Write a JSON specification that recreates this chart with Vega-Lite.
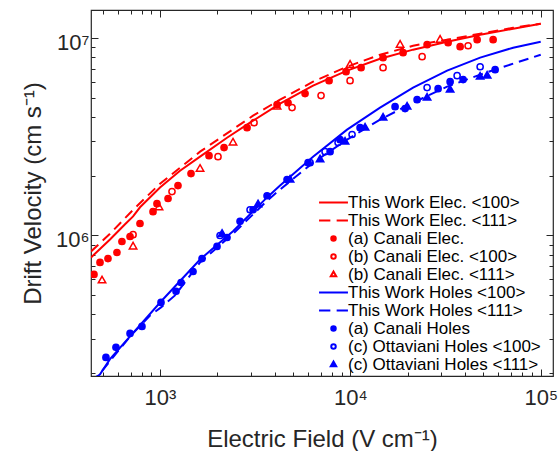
{
  "$schema": "https://vega.github.io/schema/vega-lite/v6.json",
  "width": 462,
  "height": 366,
  "autosize": {"type": "none"},
  "padding": {"left": 91, "top": 10, "right": 6, "bottom": 75},
  "background": "white",
  "datasets": {
    "d": [
      {"s": "This Work Elec. <100>", "x": 434, "y": 774000},
      {"s": "This Work Elec. <100>", "x": 546, "y": 954000},
      {"s": "This Work Elec. <100>", "x": 655, "y": 1140000},
      {"s": "This Work Elec. <100>", "x": 722, "y": 1250000},
      {"s": "This Work Elec. <100>", "x": 785, "y": 1390000},
      {"s": "This Work Elec. <100>", "x": 1000, "y": 1750000},
      {"s": "This Work Elec. <100>", "x": 1274, "y": 2130000},
      {"s": "This Work Elec. <100>", "x": 1623, "y": 2510000},
      {"s": "This Work Elec. <100>", "x": 2249, "y": 3130000},
      {"s": "This Work Elec. <100>", "x": 3082, "y": 3820000},
      {"s": "This Work Elec. <100>", "x": 4272, "y": 4660000},
      {"s": "This Work Elec. <100>", "x": 6368, "y": 5750000},
      {"s": "This Work Elec. <100>", "x": 9609, "y": 6850000},
      {"s": "This Work Elec. <100>", "x": 14323, "y": 7870000},
      {"s": "This Work Elec. <100>", "x": 21357, "y": 8750000},
      {"s": "This Work Elec. <100>", "x": 32232, "y": 9600000},
      {"s": "This Work Elec. <100>", "x": 48050, "y": 10420000},
      {"s": "This Work Elec. <100>", "x": 71614, "y": 11170000},
      {"s": "This Work Elec. <100>", "x": 100000, "y": 11840000},

      {"s": "This Work Elec. <111>", "x": 434, "y": 830000},
      {"s": "This Work Elec. <111>", "x": 546, "y": 1020000},
      {"s": "This Work Elec. <111>", "x": 722, "y": 1350000},
      {"s": "This Work Elec. <111>", "x": 1000, "y": 1830000},
      {"s": "This Work Elec. <111>", "x": 1623, "y": 2660000},
      {"s": "This Work Elec. <111>", "x": 3082, "y": 4050000},
      {"s": "This Work Elec. <111>", "x": 4272, "y": 4880000},
      {"s": "This Work Elec. <111>", "x": 6368, "y": 6020000},
      {"s": "This Work Elec. <111>", "x": 9609, "y": 7170000},
      {"s": "This Work Elec. <111>", "x": 14323, "y": 8250000},
      {"s": "This Work Elec. <111>", "x": 21357, "y": 9160000},
      {"s": "This Work Elec. <111>", "x": 32232, "y": 9830000},
      {"s": "This Work Elec. <111>", "x": 48050, "y": 10540000},
      {"s": "This Work Elec. <111>", "x": 71614, "y": 11300000},
      {"s": "This Work Elec. <111>", "x": 100000, "y": 11840000},

      {"s": "(a) Canali Elec.", "x": 450, "y": 635000},
      {"s": "(a) Canali Elec.", "x": 484, "y": 730000},
      {"s": "(a) Canali Elec.", "x": 533, "y": 764000},
      {"s": "(a) Canali Elec.", "x": 594, "y": 820000},
      {"s": "(a) Canali Elec.", "x": 631, "y": 932000},
      {"s": "(a) Canali Elec.", "x": 696, "y": 988000},
      {"s": "(a) Canali Elec.", "x": 785, "y": 1150000},
      {"s": "(a) Canali Elec.", "x": 919, "y": 1320000},
      {"s": "(a) Canali Elec.", "x": 964, "y": 1450000},
      {"s": "(a) Canali Elec.", "x": 1102, "y": 1540000},
      {"s": "(a) Canali Elec.", "x": 1243, "y": 1790000},
      {"s": "(a) Canali Elec.", "x": 1455, "y": 2060000},
      {"s": "(a) Canali Elec.", "x": 1809, "y": 2540000},
      {"s": "(a) Canali Elec.", "x": 2170, "y": 2790000},
      {"s": "(a) Canali Elec.", "x": 2866, "y": 3520000},
      {"s": "(a) Canali Elec.", "x": 4120, "y": 4610000},
      {"s": "(a) Canali Elec.", "x": 4706, "y": 4710000},
      {"s": "(a) Canali Elec.", "x": 5781, "y": 5240000},
      {"s": "(a) Canali Elec.", "x": 7730, "y": 6090000},
      {"s": "(a) Canali Elec.", "x": 9493, "y": 6770000},
      {"s": "(a) Canali Elec.", "x": 11384, "y": 7090000},
      {"s": "(a) Canali Elec.", "x": 14853, "y": 7970000},
      {"s": "(a) Canali Elec.", "x": 18923, "y": 8450000},
      {"s": "(a) Canali Elec.", "x": 25295, "y": 9270000},
      {"s": "(a) Canali Elec.", "x": 32623, "y": 9490000},
      {"s": "(a) Canali Elec.", "x": 37719, "y": 9060000},
      {"s": "(a) Canali Elec.", "x": 46335, "y": 9830000},
      {"s": "(a) Canali Elec.", "x": 56232, "y": 9830000},

      {"s": "(b) Canali Elec. <100>", "x": 722, "y": 1010000},
      {"s": "(b) Canali Elec. <100>", "x": 1156, "y": 1670000},
      {"s": "(b) Canali Elec. <100>", "x": 2017, "y": 2510000},
      {"s": "(b) Canali Elec. <100>", "x": 3119, "y": 3730000},
      {"s": "(b) Canali Elec. <100>", "x": 4940, "y": 4450000},
      {"s": "(b) Canali Elec. <100>", "x": 7015, "y": 5120000},
      {"s": "(b) Canali Elec. <100>", "x": 9964, "y": 6090000},
      {"s": "(b) Canali Elec. <100>", "x": 14853, "y": 7090000},
      {"s": "(b) Canali Elec. <100>", "x": 23820, "y": 8060000},
      {"s": "(b) Canali Elec. <100>", "x": 41545, "y": 9160000},

      {"s": "(b) Canali Elec. <111>", "x": 496, "y": 592000},
      {"s": "(b) Canali Elec. <111>", "x": 722, "y": 880000},
      {"s": "(b) Canali Elec. <111>", "x": 988, "y": 1390000},
      {"s": "(b) Canali Elec. <111>", "x": 1623, "y": 2180000},
      {"s": "(b) Canali Elec. <111>", "x": 2418, "y": 2960000},
      {"s": "(b) Canali Elec. <111>", "x": 4120, "y": 4500000},
      {"s": "(b) Canali Elec. <111>", "x": 9964, "y": 7340000},
      {"s": "(b) Canali Elec. <111>", "x": 18250, "y": 9270000},
      {"s": "(b) Canali Elec. <111>", "x": 29611, "y": 9830000},

      {"s": "This Work Holes <100>", "x": 434, "y": 180000},
      {"s": "This Work Holes <100>", "x": 484, "y": 198000},
      {"s": "This Work Holes <100>", "x": 546, "y": 236000},
      {"s": "This Work Holes <100>", "x": 696, "y": 308000},
      {"s": "This Work Holes <100>", "x": 1012, "y": 463000},
      {"s": "This Work Holes <100>", "x": 1623, "y": 756000},
      {"s": "This Work Holes <100>", "x": 2418, "y": 1050000},
      {"s": "This Work Holes <100>", "x": 3650, "y": 1560000},
      {"s": "This Work Holes <100>", "x": 4272, "y": 1790000},
      {"s": "This Work Holes <100>", "x": 6368, "y": 2510000},
      {"s": "This Work Holes <100>", "x": 9609, "y": 3440000},
      {"s": "This Work Holes <100>", "x": 14323, "y": 4450000},
      {"s": "This Work Holes <100>", "x": 21357, "y": 5620000},
      {"s": "This Work Holes <100>", "x": 32232, "y": 6850000},
      {"s": "This Work Holes <100>", "x": 48050, "y": 7970000},
      {"s": "This Work Holes <100>", "x": 71614, "y": 8950000},
      {"s": "This Work Holes <100>", "x": 100000, "y": 9600000},

      {"s": "This Work Holes <111>", "x": 434, "y": 180000},
      {"s": "This Work Holes <111>", "x": 484, "y": 200000},
      {"s": "This Work Holes <111>", "x": 696, "y": 308000},
      {"s": "This Work Holes <111>", "x": 886, "y": 393000},
      {"s": "This Work Holes <111>", "x": 1012, "y": 432000},
      {"s": "This Work Holes <111>", "x": 1199, "y": 497000},
      {"s": "This Work Holes <111>", "x": 1623, "y": 730000},
      {"s": "This Work Holes <111>", "x": 2418, "y": 1020000},
      {"s": "This Work Holes <111>", "x": 3650, "y": 1500000},
      {"s": "This Work Holes <111>", "x": 4272, "y": 1710000},
      {"s": "This Work Holes <111>", "x": 6368, "y": 2340000},
      {"s": "This Work Holes <111>", "x": 9609, "y": 3060000},
      {"s": "This Work Holes <111>", "x": 14323, "y": 3870000},
      {"s": "This Work Holes <111>", "x": 21357, "y": 4710000},
      {"s": "This Work Holes <111>", "x": 32232, "y": 5680000},
      {"s": "This Work Holes <111>", "x": 48050, "y": 6540000},
      {"s": "This Work Holes <111>", "x": 71614, "y": 7430000},
      {"s": "This Work Holes <111>", "x": 100000, "y": 8250000},

      {"s": "(a) Canali Holes", "x": 520, "y": 241000},
      {"s": "(a) Canali Holes", "x": 587, "y": 271000},
      {"s": "(a) Canali Holes", "x": 696, "y": 319000},
      {"s": "(a) Canali Holes", "x": 804, "y": 346000},
      {"s": "(a) Canali Holes", "x": 1012, "y": 458000},
      {"s": "(a) Canali Holes", "x": 1214, "y": 521000},
      {"s": "(a) Canali Holes", "x": 1290, "y": 578000},
      {"s": "(a) Canali Holes", "x": 1491, "y": 657000},
      {"s": "(a) Canali Holes", "x": 1663, "y": 764000},
      {"s": "(a) Canali Holes", "x": 1993, "y": 880000},
      {"s": "(a) Canali Holes", "x": 2249, "y": 977000},
      {"s": "(a) Canali Holes", "x": 2633, "y": 1180000},
      {"s": "(a) Canali Holes", "x": 3082, "y": 1350000},
      {"s": "(a) Canali Holes", "x": 3650, "y": 1590000},
      {"s": "(a) Canali Holes", "x": 4649, "y": 1920000},
      {"s": "(a) Canali Holes", "x": 5995, "y": 2340000},
      {"s": "(a) Canali Holes", "x": 7824, "y": 2660000},
      {"s": "(a) Canali Holes", "x": 8829, "y": 3060000},
      {"s": "(a) Canali Holes", "x": 11246, "y": 3520000},
      {"s": "(a) Canali Holes", "x": 17173, "y": 4500000},
      {"s": "(a) Canali Holes", "x": 19387, "y": 4400000},
      {"s": "(a) Canali Holes", "x": 22414, "y": 4880000},
      {"s": "(a) Canali Holes", "x": 28904, "y": 5550000},
      {"s": "(a) Canali Holes", "x": 33420, "y": 6020000},
      {"s": "(a) Canali Holes", "x": 39109, "y": 6170000},
      {"s": "(a) Canali Holes", "x": 57610, "y": 6930000},

      {"s": "(c) Ottaviani Holes <100>", "x": 2067, "y": 1000000},
      {"s": "(c) Ottaviani Holes <100>", "x": 2972, "y": 1350000},
      {"s": "(c) Ottaviani Holes <100>", "x": 6142, "y": 2340000},
      {"s": "(c) Ottaviani Holes <100>", "x": 7363, "y": 2660000},
      {"s": "(c) Ottaviani Holes <100>", "x": 8617, "y": 2960000},
      {"s": "(c) Ottaviani Holes <100>", "x": 10207, "y": 3250000},
      {"s": "(c) Ottaviani Holes <100>", "x": 25295, "y": 5620000},
      {"s": "(c) Ottaviani Holes <100>", "x": 36375, "y": 6460000},
      {"s": "(c) Ottaviani Holes <100>", "x": 48050, "y": 7170000},

      {"s": "(c) Ottaviani Holes <111>", "x": 2118, "y": 1020000},
      {"s": "(c) Ottaviani Holes <111>", "x": 3273, "y": 1440000},
      {"s": "(c) Ottaviani Holes <111>", "x": 4822, "y": 1920000},
      {"s": "(c) Ottaviani Holes <111>", "x": 6931, "y": 2430000},
      {"s": "(c) Ottaviani Holes <111>", "x": 9378, "y": 2990000},
      {"s": "(c) Ottaviani Holes <111>", "x": 11947, "y": 3520000},
      {"s": "(c) Ottaviani Holes <111>", "x": 14853, "y": 3960000},
      {"s": "(c) Ottaviani Holes <111>", "x": 19860, "y": 4500000},
      {"s": "(c) Ottaviani Holes <111>", "x": 25295, "y": 5000000},
      {"s": "(c) Ottaviani Holes <111>", "x": 33420, "y": 5490000},
      {"s": "(c) Ottaviani Holes <111>", "x": 48050, "y": 6390000},
      {"s": "(c) Ottaviani Holes <111>", "x": 52299, "y": 6460000}
    ]
  },
  "data": {"name": "d"},
  "layer": [
    {
      "transform": [{"filter": {"field": "s", "oneOf": ["This Work Elec. <100>", "This Work Holes <100>"]}}],
      "mark": {"type": "line", "strokeWidth": 2, "clip": true},
      "encoding": {
        "x": {"field": "x", "type": "quantitative", "scale": {"type": "log", "domain": [434, 116000], "nice": false},
          "axis": {"orient": "bottom", "values": [1000, 10000, 100000], "labelExpr": "datum.value == 1000 ? '10³' : datum.value == 10000 ? '10⁴' : '10⁵'", "tickSize": -7, "labelPadding": 35, "labelBaseline": "alphabetic", "labelAlign": "center", "labelFlush": false, "labelOverlap": false, "title": "Electric Field (V cm⁻¹)", "titleY": 70, "titleBaseline": "alphabetic"}},
        "y": {"field": "y", "type": "quantitative", "scale": {"type": "log", "domain": [194000, 13900000], "nice": false},
          "axis": {"orient": "left", "values": [1000000, 10000000], "labelExpr": "datum.value == 1000000 ? '10⁶' : '10⁷'", "tickSize": -7, "labelPadding": 9, "labelAlign": "right", "labelBaseline": "alphabetic", "labelOffset": 11, "labelFlush": false, "labelOverlap": false, "title": "Drift Velocity (cm s⁻¹)", "titleX": -51, "titleAngle": 270, "titleBaseline": "alphabetic"}},
        "stroke": {"field": "s", "type": "nominal", "title": null,
          "scale": {"domain": ["This Work Elec. <100>", "This Work Elec. <111>", "(a) Canali Elec.", "(b) Canali Elec. <100>", "(b) Canali Elec. <111>", "This Work Holes <100>", "This Work Holes <111>", "(a) Canali Holes", "(c) Ottaviani Holes <100>", "(c) Ottaviani Holes <111>"],
            "range": ["#ff0000", "#ff0000", "#ff0000", "#ff0000", "#ff0000", "#0000ff", "#0000ff", "#0000ff", "#0000ff", "#0000ff"]}}
      }
    },
    {
      "transform": [{"filter": {"field": "s", "oneOf": ["This Work Elec. <111>", "This Work Holes <111>"]}}],
      "mark": {"type": "line", "strokeWidth": 2, "strokeDash": [10, 6], "clip": true},
      "encoding": {
        "x": {"field": "x", "type": "quantitative", "scale": {"type": "log", "domain": [434, 116000], "nice": false},
          "axis": {"orient": "bottom", "values": [500, 600, 700, 800, 900, 2000, 3000, 4000, 5000, 6000, 7000, 8000, 9000, 20000, 30000, 40000, 50000, 60000, 70000, 80000, 90000], "labels": false, "tickSize": -4, "title": null}},
        "y": {"field": "y", "type": "quantitative", "scale": {"type": "log", "domain": [194000, 13900000], "nice": false},
          "axis": {"orient": "left", "values": [200000, 300000, 400000, 500000, 600000, 700000, 800000, 900000, 2000000, 3000000, 4000000, 5000000, 6000000, 7000000, 8000000, 9000000], "labels": false, "tickSize": -4, "title": null}},
        "stroke": {"field": "s", "type": "nominal", "title": null,
          "scale": {"domain": ["This Work Elec. <100>", "This Work Elec. <111>", "(a) Canali Elec.", "(b) Canali Elec. <100>", "(b) Canali Elec. <111>", "This Work Holes <100>", "This Work Holes <111>", "(a) Canali Holes", "(c) Ottaviani Holes <100>", "(c) Ottaviani Holes <111>"],
            "range": ["#ff0000", "#ff0000", "#ff0000", "#ff0000", "#ff0000", "#0000ff", "#0000ff", "#0000ff", "#0000ff", "#0000ff"]}}
      }
    },
    {
      "transform": [{"filter": {"field": "s", "oneOf": ["(a) Canali Elec.", "(b) Canali Elec. <100>", "(a) Canali Holes", "(c) Ottaviani Holes <100>"]}}],
      "mark": {"type": "point", "opacity": 1, "size": 543, "strokeWidth": 1.5, "clip": true},
      "encoding": {
        "x": {"field": "x", "type": "quantitative", "scale": {"type": "log", "domain": [434, 116000], "nice": false},
          "axis": {"orient": "top", "values": [1000, 10000, 100000], "labels": false, "tickSize": -7, "title": null}},
        "y": {"field": "y", "type": "quantitative", "scale": {"type": "log", "domain": [194000, 13900000], "nice": false},
          "axis": {"orient": "right", "values": [1000000, 10000000], "labels": false, "tickSize": -7, "title": null}},
        "stroke": {"field": "s", "type": "nominal", "title": null,
          "scale": {"domain": ["This Work Elec. <100>", "This Work Elec. <111>", "(a) Canali Elec.", "(b) Canali Elec. <100>", "(b) Canali Elec. <111>", "This Work Holes <100>", "This Work Holes <111>", "(a) Canali Holes", "(c) Ottaviani Holes <100>", "(c) Ottaviani Holes <111>"],
            "range": ["#ff0000", "#ff0000", "#ff0000", "#ff0000", "#ff0000", "#0000ff", "#0000ff", "#0000ff", "#0000ff", "#0000ff"]}},
        "fill": {"field": "s", "type": "nominal", "title": null,
          "scale": {"domain": ["This Work Elec. <100>", "This Work Elec. <111>", "(a) Canali Elec.", "(b) Canali Elec. <100>", "(b) Canali Elec. <111>", "This Work Holes <100>", "This Work Holes <111>", "(a) Canali Holes", "(c) Ottaviani Holes <100>", "(c) Ottaviani Holes <111>"],
            "range": ["transparent", "transparent", "#ff0000", "transparent", "transparent", "transparent", "transparent", "#0000ff", "transparent", "#0000ff"]}},
        "shape": {"field": "s", "type": "nominal", "title": null,
          "scale": {"domain": ["This Work Elec. <100>", "This Work Elec. <111>", "(a) Canali Elec.", "(b) Canali Elec. <100>", "(b) Canali Elec. <111>", "This Work Holes <100>", "This Work Holes <111>", "(a) Canali Holes", "(c) Ottaviani Holes <100>", "(c) Ottaviani Holes <111>"],
            "range": ["M-1.7,0H1.7", "M-1.7,0H-0.37M0.37,0H1.7", "M-0.265,0A0.265,0.265,0,1,1,0.265,0A0.265,0.265,0,1,1,-0.265,0Z", "M-0.265,0A0.265,0.265,0,1,1,0.265,0A0.265,0.265,0,1,1,-0.265,0Z", "M0,-0.35L0.32,0.21L-0.32,0.21Z", "M-1.7,0H1.7", "M-1.7,0H-0.37M0.37,0H1.7", "M-0.265,0A0.265,0.265,0,1,1,0.265,0A0.265,0.265,0,1,1,-0.265,0Z", "M-0.265,0A0.265,0.265,0,1,1,0.265,0A0.265,0.265,0,1,1,-0.265,0Z", "M0,-0.35L0.32,0.21L-0.32,0.21Z"]}}
      }
    },
    {
      "transform": [{"filter": {"field": "s", "oneOf": ["(b) Canali Elec. <111>", "(c) Ottaviani Holes <111>"]}}],
      "mark": {"type": "point", "opacity": 1, "size": 543, "strokeWidth": 1.5, "clip": true},
      "encoding": {
        "x": {"field": "x", "type": "quantitative", "scale": {"type": "log", "domain": [434, 116000], "nice": false},
          "axis": {"orient": "top", "values": [500, 600, 700, 800, 900, 2000, 3000, 4000, 5000, 6000, 7000, 8000, 9000, 20000, 30000, 40000, 50000, 60000, 70000, 80000, 90000], "labels": false, "tickSize": -4, "title": null}},
        "y": {"field": "y", "type": "quantitative", "scale": {"type": "log", "domain": [194000, 13900000], "nice": false},
          "axis": {"orient": "right", "values": [200000, 300000, 400000, 500000, 600000, 700000, 800000, 900000, 2000000, 3000000, 4000000, 5000000, 6000000, 7000000, 8000000, 9000000], "labels": false, "tickSize": -4, "title": null}},
        "stroke": {"field": "s", "type": "nominal", "title": null,
          "scale": {"domain": ["This Work Elec. <100>", "This Work Elec. <111>", "(a) Canali Elec.", "(b) Canali Elec. <100>", "(b) Canali Elec. <111>", "This Work Holes <100>", "This Work Holes <111>", "(a) Canali Holes", "(c) Ottaviani Holes <100>", "(c) Ottaviani Holes <111>"],
            "range": ["#ff0000", "#ff0000", "#ff0000", "#ff0000", "#ff0000", "#0000ff", "#0000ff", "#0000ff", "#0000ff", "#0000ff"]}},
        "fill": {"field": "s", "type": "nominal", "title": null,
          "scale": {"domain": ["This Work Elec. <100>", "This Work Elec. <111>", "(a) Canali Elec.", "(b) Canali Elec. <100>", "(b) Canali Elec. <111>", "This Work Holes <100>", "This Work Holes <111>", "(a) Canali Holes", "(c) Ottaviani Holes <100>", "(c) Ottaviani Holes <111>"],
            "range": ["transparent", "transparent", "#ff0000", "transparent", "transparent", "transparent", "transparent", "#0000ff", "transparent", "#0000ff"]}},
        "shape": {"field": "s", "type": "nominal", "title": null,
          "scale": {"domain": ["This Work Elec. <100>", "This Work Elec. <111>", "(a) Canali Elec.", "(b) Canali Elec. <100>", "(b) Canali Elec. <111>", "This Work Holes <100>", "This Work Holes <111>", "(a) Canali Holes", "(c) Ottaviani Holes <100>", "(c) Ottaviani Holes <111>"],
            "range": ["M-1.7,0H1.7", "M-1.7,0H-0.37M0.37,0H1.7", "M-0.265,0A0.265,0.265,0,1,1,0.265,0A0.265,0.265,0,1,1,-0.265,0Z", "M-0.265,0A0.265,0.265,0,1,1,0.265,0A0.265,0.265,0,1,1,-0.265,0Z", "M0,-0.35L0.32,0.21L-0.32,0.21Z", "M-1.7,0H1.7", "M-1.7,0H-0.37M0.37,0H1.7", "M-0.265,0A0.265,0.265,0,1,1,0.265,0A0.265,0.265,0,1,1,-0.265,0Z", "M-0.265,0A0.265,0.265,0,1,1,0.265,0A0.265,0.265,0,1,1,-0.265,0Z", "M0,-0.35L0.32,0.21L-0.32,0.21Z"]}}
      }
    }
  ],
  "resolve": {"axis": {"x": "independent", "y": "independent"}},
  "config": {
    "font": "Liberation Sans",
    "view": {"stroke": "#262626", "strokeWidth": 1.2},
    "axis": {"domain": false, "grid": false, "tickColor": "#262626", "tickWidth": 1, "labelColor": "#262626", "titleColor": "#262626", "labelFont": "Liberation Sans", "titleFont": "Liberation Sans", "labelFontSize": 22, "titleFontSize": 24, "titleFontWeight": "normal"},
    "legend": {"orient": "none", "legendX": 233, "legendY": 183, "padding": 0, "rowPadding": 0, "labelOffset": 5, "symbolSize": 289, "symbolStrokeWidth": 2, "symbolFillColor": "transparent", "labelFontSize": 17, "labelFont": "Liberation Sans", "labelColor": "#000000", "labelLimit": 0}
  }
}
